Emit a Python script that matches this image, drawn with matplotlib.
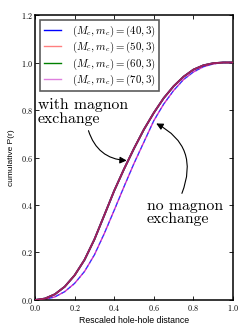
import numpy as np
import matplotlib
matplotlib.use('Agg')
import matplotlib.pyplot as plt

# rescaled hole-hole distance grid and cumulative P(r)
r = [0.0, 0.05, 0.1, 0.15, 0.2, 0.25, 0.3, 0.35, 0.4, 0.45, 0.5,
     0.55, 0.6, 0.65, 0.7, 0.75, 0.8, 0.85, 0.9, 0.95, 1.0]
cdf_with = [0.0, 0.006, 0.024, 0.056, 0.104, 0.169, 0.255, 0.357, 0.46, 0.552, 0.638,
            0.718, 0.788, 0.85, 0.9, 0.94, 0.97, 0.988, 0.997, 1.0, 1.0]
cdf_without = [0.0, 0.003, 0.013, 0.035, 0.07, 0.12, 0.19, 0.28, 0.378, 0.478, 0.575,
               0.665, 0.755, 0.825, 0.882, 0.928, 0.96, 0.982, 0.994, 1.0, 1.0]

Mc_values = [40, 50, 60, 70]
mc = 3
colors = ['blue', 'red', 'green', 'm']
alphas = [1.0, 0.5, 1.0, 0.5]
zorders = [2, 4, 3, 5]

plt.rcParams['mathtext.fontset'] = 'cm'
plt.rcParams['axes.formatter.use_mathtext'] = True

fig = plt.figure(figsize=(2.49, 3.32), dpi=100)
ax = fig.add_axes([0.1406, 0.0964, 0.7951, 0.8584])

for Mc, c, a, z in zip(Mc_values, colors, alphas, zorders):
    ax.plot(r, cdf_with, color=c, alpha=a, lw=1.3, zorder=z,
            label=r'$(M_c, m_c) = (%d,%d)$' % (Mc, mc))

# no magnon exchange (dashed)
ax.plot(r, cdf_without, color='blue', lw=1.0, ls=(0, (3, 2)), alpha=0.8, zorder=2)
ax.plot(r, cdf_without, color='m', lw=1.0, ls=(2.5, (3, 2)), alpha=0.8, zorder=2)

ax.set_xlim(0, 1.0)
ax.set_ylim(0, 1.2)
ax.set_xticks(np.arange(0, 1.01, 0.2))
ax.set_yticks(np.arange(0, 1.21, 0.2))
ax.tick_params(direction='in', top=True, right=True, length=3, width=0.6)
ax.tick_params(axis='x', pad=2.5)
ax.tick_params(axis='y', pad=1.5)
for lab in ax.get_xticklabels() + ax.get_yticklabels():
    lab.set_fontname('cmr10')
    lab.set_fontsize(5.8)
for sp in ax.spines.values():
    sp.set_linewidth(1.1)

ax.set_xlabel('Rescaled hole-hole distance', fontname='Liberation Sans', fontsize=6.3, labelpad=1.5)
ax.set_ylabel('cumulative P(r)', fontname='Liberation Sans', fontsize=6.0, labelpad=4)

leg = ax.legend(loc='upper left', fontsize=7.8, handlelength=1.6, frameon=True,
                fancybox=False, borderaxespad=0.5, labelspacing=0.1,
                handletextpad=1.0, borderpad=0.3)
leg.get_frame().set_edgecolor('#333333')
leg.get_frame().set_linewidth(1.2)
for h in leg.get_lines():
    h.set_linewidth(1.0)

ax.text(0.015, 0.85, 'with magnon\nexchange', fontname='cmr10', fontsize=11.3,
        va='top', ha='left', linespacing=1.0)
ax.text(0.566, 0.425, 'no magnon\nexchange', fontname='cmr10', fontsize=11.3,
        va='top', ha='left', linespacing=1.0)

ax.annotate('', xy=(0.47, 0.587), xytext=(0.27, 0.713),
            arrowprops=dict(arrowstyle='-|>', color='black', lw=0.8,
                            shrinkA=0, shrinkB=1, mutation_scale=10,
                            connectionstyle='arc3,rad=0.35'))
ax.annotate('', xy=(0.606, 0.746), xytext=(0.742, 0.449),
            arrowprops=dict(arrowstyle='-|>', color='black', lw=0.8,
                            shrinkA=0, shrinkB=1, mutation_scale=10,
                            connectionstyle='arc3,rad=0.45'))

fig.savefig('out.png', dpi=100)
